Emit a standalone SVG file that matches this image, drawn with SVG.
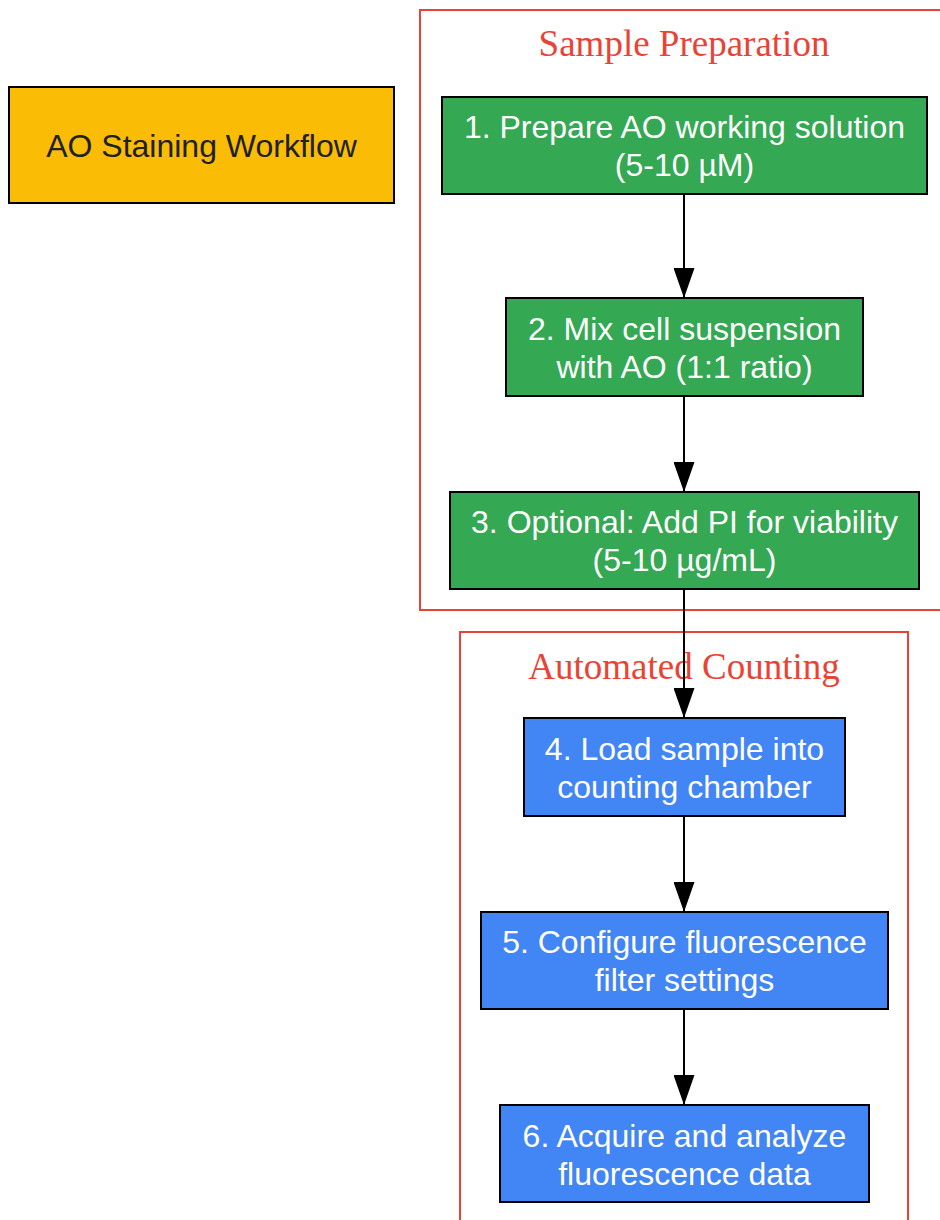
<svg xmlns="http://www.w3.org/2000/svg" width="940" height="1220" viewBox="0 0 940 1220">
<style>
.cl{fill:none;stroke:#ea4335;stroke-width:2}
.clt{font-family:"Liberation Serif",serif;font-size:37px;fill:#ea4335;text-anchor:middle}
.n{stroke:#000;stroke-width:2}
.g{fill:#34a853}.b{fill:#4285f4}.y{fill:#fbbc05}
.t{font-family:"Liberation Sans",Arial,sans-serif;font-size:32px;fill:#fff;text-anchor:middle}
.td{fill:#202124}
.e{stroke:#000;stroke-width:2;fill:none}
</style>
<defs>
<marker id="ah" viewBox="0 0 30 21" refX="30" refY="10.5" markerWidth="30" markerHeight="21" markerUnits="userSpaceOnUse" orient="auto">
<path d="M0,0 L30,10.5 L0,21 Z" fill="#000"/>
</marker>
</defs>
<rect width="940" height="1220" fill="#fff"/>
<g id="cluster_prep">
<rect class="cl" x="420" y="10" width="540" height="600"/>
<text class="clt" x="684" y="56">Sample Preparation</text>
</g>
<g id="cluster_count">
<rect class="cl" x="460" y="632" width="448" height="620"/>
<text class="clt" x="684" y="679">Automated Counting</text>
</g>
<g id="edges">
<line class="e" x1="684" y1="194" x2="684" y2="298" marker-end="url(#ah)"/>
<line class="e" x1="684" y1="396" x2="684" y2="492" marker-end="url(#ah)"/>
<line class="e" x1="684" y1="589" x2="684" y2="718" marker-end="url(#ah)"/>
<line class="e" x1="684" y1="816" x2="684" y2="912" marker-end="url(#ah)"/>
<line class="e" x1="684" y1="1009" x2="684" y2="1105" marker-end="url(#ah)"/>
</g>
<g id="title">
<rect class="n y" x="9" y="87" width="385" height="116"/>
<text class="t td" x="201.5" y="157">AO Staining Workflow</text>
</g>
<g id="step1">
<rect class="n g" x="442" y="97" width="485" height="97"/>
<text class="t" x="684.5" y="138">1. Prepare AO working solution</text>
<text class="t" x="684.5" y="176">(5-10 µM)</text>
</g>
<g id="step2">
<rect class="n g" x="506" y="298" width="357" height="98"/>
<text class="t" x="684.5" y="340">2. Mix cell suspension</text>
<text class="t" x="684.5" y="378">with AO (1:1 ratio)</text>
</g>
<g id="step3">
<rect class="n g" x="450" y="492" width="469" height="97"/>
<text class="t" x="684.5" y="533">3. Optional: Add PI for viability</text>
<text class="t" x="684.5" y="571">(5-10 µg/mL)</text>
</g>
<g id="step4">
<rect class="n b" x="524" y="718" width="321" height="98"/>
<text class="t" x="684.5" y="760">4. Load sample into</text>
<text class="t" x="684.5" y="798">counting chamber</text>
</g>
<g id="step5">
<rect class="n b" x="481" y="912" width="407" height="97"/>
<text class="t" x="684.5" y="953">5. Configure fluorescence</text>
<text class="t" x="684.5" y="991">filter settings</text>
</g>
<g id="step6">
<rect class="n b" x="500" y="1105" width="369" height="97"/>
<text class="t" x="684.5" y="1147">6. Acquire and analyze</text>
<text class="t" x="684.5" y="1185">fluorescence data</text>
</g>
</svg>
